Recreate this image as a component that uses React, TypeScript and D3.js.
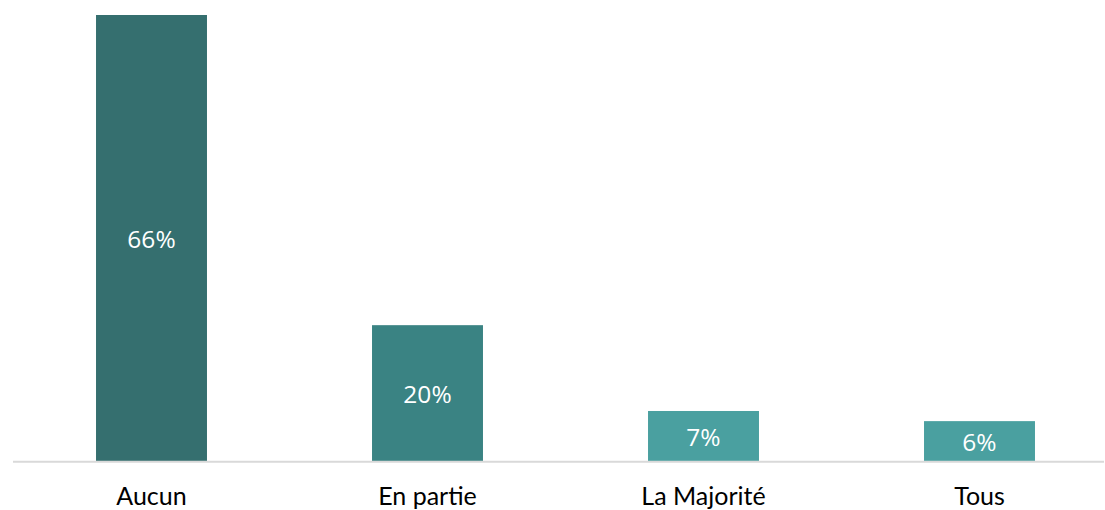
import React from "react";
import * as d3 from "d3";

const categories = ["Aucun", "En partie", "La Majorité", "Tous"];
const values = [66, 20.1, 7.4, 5.9];
const valueLabels = ["66%", "20%", "7%", "6%"];
const colors = ["#356f6f", "#3a8383", "#4aa0a0", "#4aa0a0"];

export default function App() {
  const W = 1105, H = 510;
  const x = d3.scaleBand<string>().domain(categories).range([13.5, 1117.5]).paddingInner(0.598).paddingOuter(0.299);
  const y = d3.scaleLinear().domain([0, 66]).range([461, 15]);
  return (
    <svg width={W} height={H} style={{ position: "absolute", left: 0, top: 0 }}>
      {categories.map((c, i) => (
        <rect key={c} x={x(c)} y={y(values[i])} width={x.bandwidth()} height={y(0) - y(values[i])} fill={colors[i]} />
      ))}
      <line x1={13} x2={1104} y1={461.8} y2={461.8} stroke="#d9d9d9" strokeWidth={2} />
      {categories.map((c, i) => (
        <text key={"v" + c} x={(x(c) as number) + x.bandwidth() / 2} y={(y(values[i]) + y(0)) / 2} dy="0.42em"
          textAnchor="middle" fill="#ffffff" fontFamily="'Open Sans', sans-serif" fontSize={24.5}>
          {valueLabels[i]}
        </text>
      ))}
      {categories.map((c) => (
        <text key={"c" + c} x={(x(c) as number) + x.bandwidth() / 2} y={505}
          textAnchor="middle" fill="#000000" fontFamily="Lato, sans-serif" fontSize={25}>
          {c}
        </text>
      ))}
    </svg>
  );
}
